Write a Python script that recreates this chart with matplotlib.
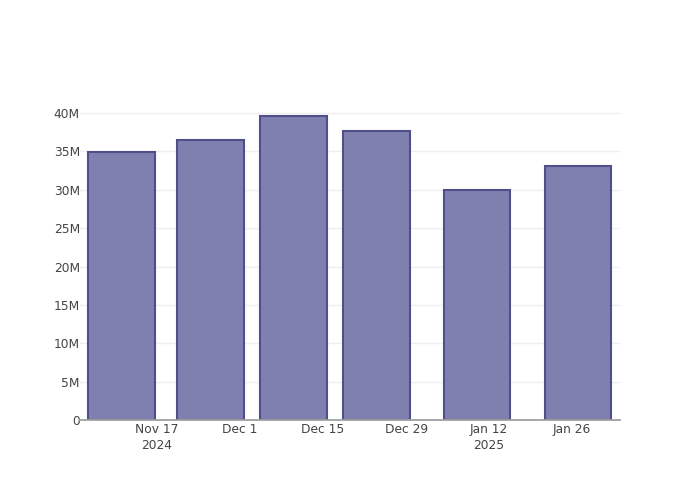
import pandas as pd
import matplotlib
matplotlib.use("Agg")
import matplotlib.pyplot as plt

# bar dates and values (millions)
dates = pd.to_datetime(["2024-11-11", "2024-11-26", "2024-12-10",
                        "2024-12-24", "2025-01-10", "2025-01-27"])
values = [34.9, 36.5, 39.6, 37.6, 30.0, 33.15]

tick_dates = pd.to_datetime(["2024-11-17", "2024-12-01", "2024-12-15",
                             "2024-12-29", "2025-01-12", "2025-01-26"])
tick_labels = ["Nov 17\n2024", "Dec 1", "Dec 15", "Dec 29", "Jan 12\n2025", "Jan 26"]
y_ticks = [0, 5, 10, 15, 20, 25, 30, 35, 40]
y_labels = ["0", "5M", "10M", "15M", "20M", "25M", "30M", "35M", "40M"]

fig = plt.figure(figsize=(7, 5), dpi=100)
ax = fig.add_axes([80 / 700, 80 / 500, 540 / 700, 320 / 500])

ax.bar(dates, values, width=11.2, color="#8080b0", edgecolor="#4f4f8c",
       linewidth=1.5, zorder=3)

ax.set_xlim(pd.Timestamp("2024-11-04"), pd.Timestamp("2025-02-03 02:00"))
ax.set_ylim(0, 41.7)

ax.set_xticks(tick_dates)
ax.set_xticklabels(tick_labels, linespacing=1.3)
ax.set_yticks(y_ticks)
ax.set_yticklabels(y_labels)
ax.tick_params(length=0, labelsize=8.8, colors="#444444")
ax.tick_params(axis="x", pad=2)
ax.tick_params(axis="y", pad=0)

ax.grid(axis="y", color="#eeeeee", linewidth=1, zorder=0)
for side in ["top", "right", "left"]:
    ax.spines[side].set_visible(False)
ax.spines["bottom"].set_color("#a0a0a0")
ax.spines["bottom"].set_linewidth(1.3)
ax.spines["bottom"].set_zorder(4)

fig.savefig("out.png", dpi=100)
